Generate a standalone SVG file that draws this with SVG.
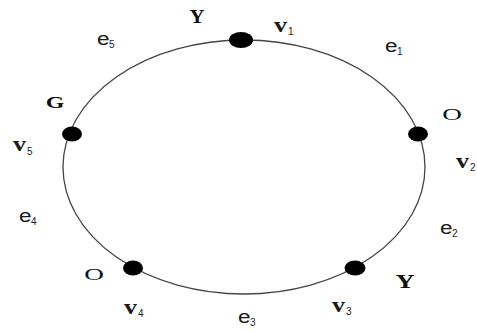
<svg xmlns="http://www.w3.org/2000/svg" width="477" height="331" viewBox="0 0 477 331">
<style>
.cyc{fill:none;stroke:#444;stroke-width:1.3}
.dot{fill:#000}
.col{font-family:"Liberation Serif","Times New Roman",serif;fill:#111}
.v{font-family:"Liberation Serif","Times New Roman",serif;font-size:20px;font-weight:bold;fill:#1a1a1a}
.e{font-family:"Liberation Sans",Arial,sans-serif;font-size:18px;fill:#1a1a1a}
.s{font-family:"Liberation Sans",Arial,sans-serif;font-size:10px;fill:#1a1a1a}
</style>
<rect width="477" height="331" fill="#fff"/>
<g id="connectors">
<ellipse class="cyc" cx="244" cy="167" rx="181" ry="127"/>
</g>
<g id="v1">
<ellipse class="dot" cx="241" cy="40" rx="12" ry="8"/>
<text class="col" font-size="19" font-weight="bold" transform="translate(197,23) scale(1.1,1)" text-anchor="middle">Y</text>
<text class="v" transform="translate(274,32) scale(1.3,1)">v</text><text class="s" x="288" y="35">1</text>
</g>
<g id="v2">
<ellipse class="dot" cx="418" cy="134" rx="10" ry="7.5"/>
<text class="col" font-size="17" transform="translate(452,120) scale(1.6,1)" text-anchor="middle">O</text>
<text class="v" transform="translate(456,168) scale(1.3,1)">v</text><text class="s" x="470" y="171">2</text>
</g>
<g id="v3">
<ellipse class="dot" cx="355" cy="268" rx="10.5" ry="7.5"/>
<text class="col" font-size="19" font-weight="bold" transform="translate(405,288) scale(1.4,1)" text-anchor="middle">Y</text>
<text class="v" transform="translate(332,312) scale(1.3,1)">v</text><text class="s" x="346" y="315">3</text>
</g>
<g id="v4">
<ellipse class="dot" cx="133" cy="268" rx="10" ry="7.5"/>
<text class="col" font-size="17" transform="translate(94,280) scale(1.6,1)" text-anchor="middle">O</text>
<text class="v" transform="translate(124,314) scale(1.3,1)">v</text><text class="s" x="138" y="317">4</text>
</g>
<g id="v5">
<ellipse class="dot" cx="72" cy="134" rx="10" ry="7.5"/>
<text class="col" font-size="16" font-weight="bold" transform="translate(55,108) scale(1.5,1)" text-anchor="middle">G</text>
<text class="v" transform="translate(13,151) scale(1.3,1)">v</text><text class="s" x="27" y="155">5</text>
</g>
<g id="edge-labels">
<text class="e" transform="translate(385,52) scale(1.25,1)">e</text><text class="s" x="397" y="55">1</text>
<text class="e" transform="translate(440,234) scale(1.25,1)">e</text><text class="s" x="452" y="237">2</text>
<text class="e" transform="translate(238,323) scale(1.25,1)">e</text><text class="s" x="250" y="326">3</text>
<text class="e" transform="translate(19,222) scale(1.25,1)">e</text><text class="s" x="31" y="225">4</text>
<text class="e" transform="translate(97,45) scale(1.25,1)">e</text><text class="s" x="109" y="48">5</text>
</g>
</svg>
